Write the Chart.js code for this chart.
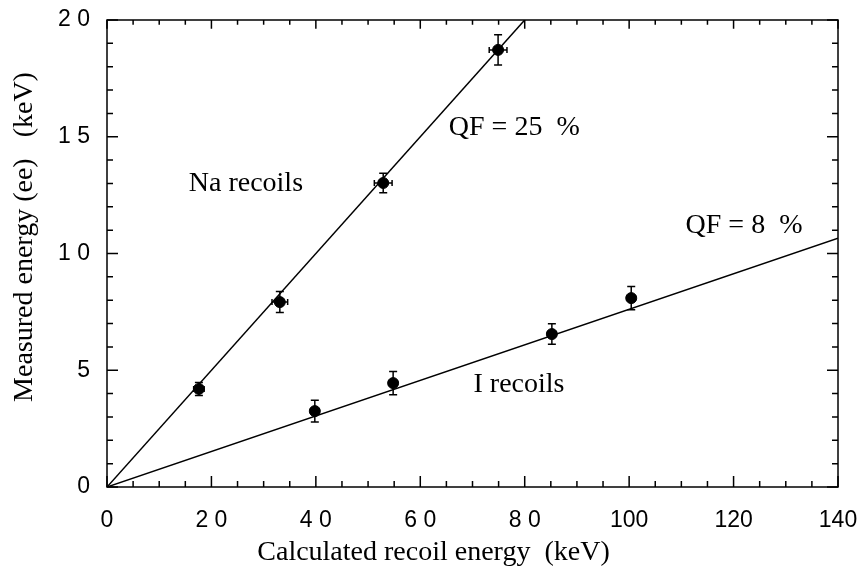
<!DOCTYPE html>
<html>
<head>
<meta charset="utf-8">
<script src="https://cdn.jsdelivr.net/npm/chart.js@4.4.1/dist/chart.umd.min.js"></script>
<style>
  html, body { margin: 0; padding: 0; background: #fff; }
  #wrap { width: 867px; height: 575px; }
</style>
</head>
<body>
<div id="wrap"><canvas id="chart"></canvas></div>
<script>
// data
const naX = [17.6, 33.1, 52.9, 74.9];
const naY = [4.2, 7.92, 13.02, 18.72];
const naXErr = [1.0, 1.5, 1.7, 1.7];
const naYErr = [0.28, 0.45, 0.42, 0.65];

const iX = [39.8, 54.8, 85.2, 100.4];
const iY = [3.25, 4.45, 6.55, 8.09];
const iXErr = [0.8, 0.8, 0.8, 0.8];
const iYErr = [0.47, 0.5, 0.44, 0.5];

// fitted lines (QF slopes)
const naFitX = [0, 80];
const naFitY = [0, 20];
const iFitX = [0, 140];
const iFitY = [0, 10.65];

const xTickLabels = ['0', '2 0', '4 0', '6 0', '8 0', '100', '120', '140'];
const yTickLabels = ['0', '5', '1 0', '1 5', '2 0'];

const xTitle = 'Calculated recoil energy  (keV)';
const yTitle = 'Measured energy (ee)   (keV)';

const toPts = (xs, ys) => xs.map((x, i) => ({ x: x, y: ys[i] }));

const serif = '"Liberation Serif", "Times New Roman", serif';
const sans = '"Liberation Sans", Arial, sans-serif';

const notes = [
  { text: 'Na recoils', x: 26.6, y: 13.0 },
  { text: 'QF = 25  %', x: 78.0, y: 15.4 },
  { text: 'QF = 8  %', x: 122.0, y: 11.2 },
  { text: 'I recoils', x: 78.9, y: 4.37 }
];

const errorBars = {
  id: 'errorBars',
  beforeDatasetsDraw(chart) {
    const ctx = chart.ctx;
    const xs = chart.scales.x, ys = chart.scales.y;
    const sets = [[naX, naY, naXErr, naYErr], [iX, iY, iXErr, iYErr]];
    ctx.save();
    ctx.strokeStyle = '#000';
    ctx.lineWidth = 1.5;
    sets.forEach(([X, Y, XE, YE]) => {
      X.forEach((x, i) => {
        const px = xs.getPixelForValue(x), py = ys.getPixelForValue(Y[i]);
        const y1 = ys.getPixelForValue(Y[i] - YE[i]), y2 = ys.getPixelForValue(Y[i] + YE[i]);
        const x1 = xs.getPixelForValue(x - XE[i]), x2 = xs.getPixelForValue(x + XE[i]);
        ctx.beginPath();
        ctx.moveTo(px, y1); ctx.lineTo(px, y2);
        ctx.moveTo(px - 4, y1); ctx.lineTo(px + 4, y1);
        ctx.moveTo(px - 4, y2); ctx.lineTo(px + 4, y2);
        ctx.moveTo(x1, py); ctx.lineTo(x2, py);
        ctx.moveTo(x1, py - 3); ctx.lineTo(x1, py + 3);
        ctx.moveTo(x2, py - 3); ctx.lineTo(x2, py + 3);
        ctx.stroke();
      });
    });
    ctx.restore();
  }
};

const frameAndTicks = {
  id: 'frameAndTicks',
  afterDraw(chart) {
    const ctx = chart.ctx;
    const a = chart.chartArea;
    const xs = chart.scales.x, ys = chart.scales.y;
    ctx.save();
    ctx.strokeStyle = '#000';
    ctx.lineWidth = 1.5;
    ctx.strokeRect(a.left, a.top, a.right - a.left, a.bottom - a.top);
    ctx.beginPath();
    for (let v = 0; v <= 140; v += 5) {
      const p = xs.getPixelForValue(v);
      const len = v % 20 === 0 ? 11 : 6;
      ctx.moveTo(p, a.bottom); ctx.lineTo(p, a.bottom - len);
      ctx.moveTo(p, a.top); ctx.lineTo(p, a.top + len * 0.8);
    }
    for (let v = 0; v <= 20; v += 1) {
      const p = ys.getPixelForValue(v);
      const len = v % 5 === 0 ? 11 : 6;
      ctx.moveTo(a.left, p); ctx.lineTo(a.left + len, p);
      ctx.moveTo(a.right, p); ctx.lineTo(a.right - len, p);
    }
    ctx.stroke();

    ctx.fillStyle = '#000';
    ctx.font = '28px ' + serif;
    ctx.textAlign = 'center';
    ctx.textBaseline = 'middle';
    notes.forEach(n => {
      ctx.fillText(n.text, xs.getPixelForValue(n.x), ys.getPixelForValue(n.y));
    });

    // axis titles, centred as in the original figure
    ctx.fillText(xTitle, chart.width / 2, 553);
    ctx.translate(25, 237);
    ctx.rotate(-Math.PI / 2);
    ctx.fillText(yTitle, 0, 0);
    ctx.restore();
  }
};

new Chart(document.getElementById('chart'), {
  type: 'scatter',
  data: {
    datasets: [
      {
        type: 'line',
        data: toPts(naFitX, naFitY),
        borderColor: '#000',
        borderWidth: 1.5,
        pointRadius: 0,
        fill: false
      },
      {
        type: 'line',
        data: toPts(iFitX, iFitY),
        borderColor: '#000',
        borderWidth: 1.5,
        pointRadius: 0,
        fill: false
      },
      {
        data: toPts(naX, naY),
        backgroundColor: '#000',
        borderColor: '#000',
        pointRadius: 5.5
      },
      {
        data: toPts(iX, iY),
        backgroundColor: '#000',
        borderColor: '#000',
        pointRadius: 5.5
      }
    ]
  },
  options: {
    responsive: true,
    maintainAspectRatio: false,
    animation: false,
    layout: { padding: { top: 20, right: 29, left: 0, bottom: 0 } },
    plugins: {
      legend: { display: false },
      tooltip: { enabled: false }
    },
    scales: {
      x: {
        type: 'linear',
        min: 0,
        max: 140,
        afterFit(scale) {
          scale.height = 88;
          scale.paddingLeft = 0;
          scale.paddingRight = 0;
        },
        grid: { display: false, drawTicks: false },
        border: { display: false },
        ticks: {
          stepSize: 20,
          padding: 20,
          color: '#000',
          font: { family: sans, size: 23 },
          callback: (v, i) => xTickLabels[i]
        }
      },
      y: {
        type: 'linear',
        min: 0,
        max: 20,
        afterFit(scale) {
          scale.width = 107;
          scale.paddingTop = 0;
          scale.paddingBottom = 0;
        },
        grid: { display: false, drawTicks: false },
        border: { display: false },
        ticks: {
          stepSize: 5,
          padding: 17,
          color: '#000',
          font: { family: sans, size: 23 },
          callback: (v, i) => yTickLabels[i]
        }
      }
    }
  },
  plugins: [errorBars, frameAndTicks]
});
</script>
</body>
</html>
